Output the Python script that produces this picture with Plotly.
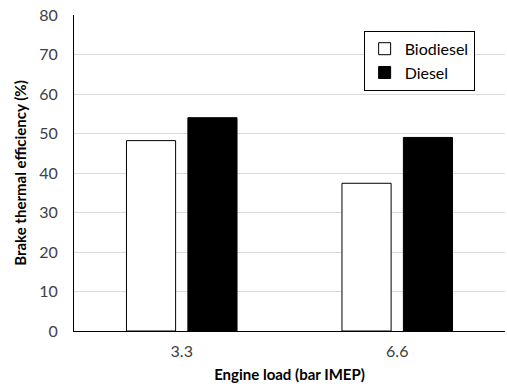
import plotly.graph_objects as go

categories = ["3.3", "6.6"]
biodiesel = [48.2, 37.4]
diesel = [54.0, 49.0]
y_ticks = [0, 10, 20, 30, 40, 50, 60, 70, 80]

fig = go.Figure()
fig.add_trace(go.Bar(x=categories, y=biodiesel, name="Biodiesel",
                     marker=dict(color="white", line=dict(color="black", width=1))))
fig.add_trace(go.Bar(x=categories, y=diesel, name="Diesel",
                     marker=dict(color="black", line=dict(color="black", width=1))))

fig.update_layout(
    width=507, height=389,
    margin=dict(l=74, r=2, t=15, b=58),
    paper_bgcolor="white", plot_bgcolor="white",
    barmode="group", bargap=0.43, bargroupgap=0.2,
    font=dict(family="Lato, Open Sans, sans-serif", color="#404040", size=16),
    showlegend=True,
    legend=dict(x=0.672, y=0.95, xanchor="left", yanchor="top",
                bordercolor="black", borderwidth=1, bgcolor="white",
                font=dict(size=16, color="black"), tracegroupgap=2,
                itemwidth=30),
    xaxis=dict(showline=True, linecolor="black", linewidth=1, ticks="",
               ticklabelstandoff=6,
               title=dict(text="<b>Engine load (bar IMEP)</b>", font=dict(size=15, color="black"), standoff=10),
               tickfont=dict(size=16, color="#404040")),
    yaxis=dict(range=[0, 80], tickvals=y_ticks, showline=True, linecolor="black", linewidth=1,
               showgrid=True, gridcolor="#d9d9d9", gridwidth=1, ticks="", zeroline=False,
               ticklabelstandoff=12,
               title=dict(text="<b>Brake thermal efficiency (%)</b>", font=dict(size=15, color="black"), standoff=8),
               tickfont=dict(size=16, color="#404040")),
)

fig.write_html("out.html")
